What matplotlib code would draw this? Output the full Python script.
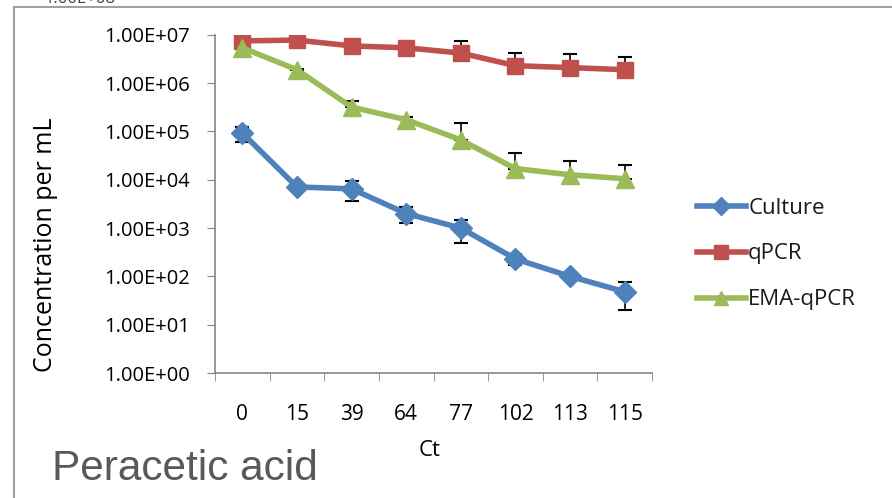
import matplotlib.pyplot as plt
from matplotlib.patches import Rectangle
from matplotlib.ticker import FixedLocator, NullLocator

ct_labels = ["0", "15", "39", "64", "77", "102", "113", "115"]

culture = [9.3e4, 7.1e3, 6.5e3, 2.0e3, 1.0e3, 230, 100, 48]
culture_err = [3.1e4, 1.0e3, 2.8e3, 700, 500, 60, 10, 28]

qpcr = [7.5e6, 7.8e6, 5.9e6, 5.4e6, 4.2e6, 2.3e6, 2.1e6, 1.9e6]
qpcr_err = [3e5, 2e5, 5e5, 5e5, 3.3e6, 1.9e6, 1.9e6, 1.6e6]

ema = [5.4e6, 1.9e6, 3.2e5, 1.75e5, 6.7e4, 1.7e4, 1.27e4, 1.05e4]
ema_err = [2e5, 1e5, 1.1e5, 2e4, 8.3e4, 1.9e4, 1.2e4, 9.5e3]

yticks = [1e0, 1e1, 1e2, 1e3, 1e4, 1e5, 1e6, 1e7]

plt.rcParams["font.family"] = ["Open Sans", "DejaVu Sans"]
plt.rcParams["text.color"] = "#1a1a1a"

fig = plt.figure(figsize=(8.92, 4.98), dpi=100)
ax = fig.add_axes([0.241, 0.251, 0.490, 0.679])

x = list(range(len(ct_labels)))
zeros = [0] * len(x)

series = [
    ("Culture", culture, [culture_err, culture_err], "#4F81BD", "D", 11),
    ("qPCR", qpcr, [zeros, qpcr_err], "#C0504D", "s", 12),
    ("EMA-qPCR", ema, [zeros, ema_err], "#9BBB59", "^", 13),
]
for name, ys, err, color, marker, ms in series:
    ax.errorbar(x, ys, yerr=err, color=color, ecolor="black", elinewidth=1.2,
                capsize=5, capthick=1.5, zorder=2)
    ax.plot(x, ys, color=color, lw=4, marker=marker, markersize=ms,
            label=name, zorder=3)

ax.set_yscale("log")
ax.set_ylim(1, 1e7)
ax.set_xlim(-0.5, len(x) - 0.5)
ax.yaxis.set_major_locator(FixedLocator(yticks))
ax.yaxis.set_minor_locator(NullLocator())
ax.set_yticklabels([f"{v:.2E}" for v in yticks], fontsize=14.5)

ax.set_xticks(x)
ax.set_xticklabels(ct_labels, fontsize=15)
ax.xaxis.set_minor_locator(FixedLocator([i - 0.5 for i in range(len(x) + 1)]))
ax.tick_params(axis="x", which="major", length=0, pad=22)
ax.tick_params(axis="x", which="minor", length=6, color="#868686", direction="out")
ax.tick_params(axis="y", length=6, color="#868686", direction="out", pad=12)

for side in ["top", "right"]:
    ax.spines[side].set_visible(False)
for side in ["left", "bottom"]:
    ax.spines[side].set_color("#868686")
    ax.spines[side].set_linewidth(1.2)

ax.set_ylabel("Concentration per mL", fontsize=18)
ax.yaxis.set_label_coords(-0.36, 0.379)
ax.set_xlabel("Ct", fontsize=16)
ax.xaxis.set_label_coords(0.49, -0.228)
ax.xaxis.label.set_va("center")

ax.legend(loc="center left", bbox_to_anchor=(0.759, 0.49), bbox_transform=fig.transFigure,
          frameon=False, fontsize=16, handlelength=2.2, handletextpad=0.1,
          labelspacing=1.12, markerscale=0.8)

fig.patches.append(Rectangle((14 / 892, -0.1), 1.0, 1.0 - 7 / 498 + 0.1,
                             transform=fig.transFigure, fill=False,
                             edgecolor="#A0A0A0", lw=1.5))
fig.text(0.05, 1.003, "1.00E+08", fontsize=12, va="center", color="#404040")
fig.text(0.058, 0.036, "Peracetic acid", fontsize=30.5, color="#595959",
         family=["Liberation Sans", "DejaVu Sans"])

fig.savefig("out.png", dpi=100)
